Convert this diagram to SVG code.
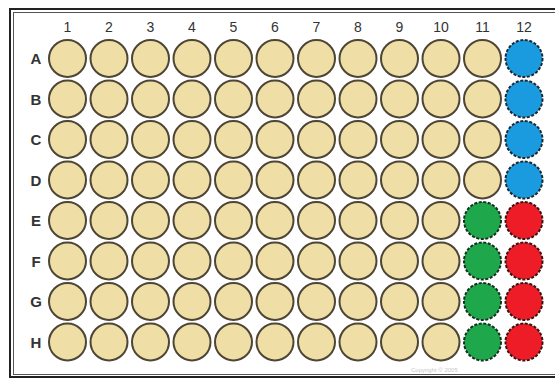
<svg xmlns="http://www.w3.org/2000/svg" width="555" height="378" viewBox="0 0 555 378">
<style>
.w{fill:#efdea6;stroke:#4d4535;stroke-width:2}
.b{fill:#1a9be0;stroke:#1c2a33;stroke-width:2;stroke-dasharray:3 1.6}
.g{fill:#1fa84b;stroke:#16301e;stroke-width:2;stroke-dasharray:3 1.6}
.r{fill:#ee1c26;stroke:#3a1414;stroke-width:2;stroke-dasharray:3 1.6}
.n{font-family:"Liberation Sans",Arial,sans-serif;font-size:14px;fill:#333;text-anchor:middle}
.l{font-family:"Liberation Sans",Arial,sans-serif;font-size:15px;font-weight:bold;fill:#333;text-anchor:middle}
</style>
<rect width="555" height="378" fill="#fff"/>
<rect x="10" y="9" width="560" height="368" fill="none" stroke="#222" stroke-width="2"/>
<rect x="13.5" y="12.5" width="560" height="362" fill="none" stroke="#555" stroke-width="1"/>
<g id="col-labels">
<text class="n" x="67.5" y="32">1</text><text class="n" x="109" y="32">2</text><text class="n" x="150.5" y="32">3</text><text class="n" x="192" y="32">4</text><text class="n" x="233.5" y="32">5</text><text class="n" x="275" y="32">6</text><text class="n" x="316.5" y="32">7</text><text class="n" x="358" y="32">8</text><text class="n" x="399.5" y="32">9</text><text class="n" x="441" y="32">10</text><text class="n" x="482.5" y="32">11</text><text class="n" x="524" y="32">12</text>
</g>
<g id="row-labels">
<text class="l" x="36" y="64">A</text><text class="l" x="36" y="104.5">B</text><text class="l" x="36" y="145">C</text><text class="l" x="36" y="185.5">D</text><text class="l" x="36" y="226">E</text><text class="l" x="36" y="266.5">F</text><text class="l" x="36" y="307">G</text><text class="l" x="36" y="347.5">H</text>
</g>
<g id="connectors"/>
<g id="A1"><circle class="w" cx="67.5" cy="58.5" r="18.5"/></g><g id="A2"><circle class="w" cx="109" cy="58.5" r="18.5"/></g><g id="A3"><circle class="w" cx="150.5" cy="58.5" r="18.5"/></g><g id="A4"><circle class="w" cx="192" cy="58.5" r="18.5"/></g><g id="A5"><circle class="w" cx="233.5" cy="58.5" r="18.5"/></g><g id="A6"><circle class="w" cx="275" cy="58.5" r="18.5"/></g><g id="A7"><circle class="w" cx="316.5" cy="58.5" r="18.5"/></g><g id="A8"><circle class="w" cx="358" cy="58.5" r="18.5"/></g><g id="A9"><circle class="w" cx="399.5" cy="58.5" r="18.5"/></g><g id="A10"><circle class="w" cx="441" cy="58.5" r="18.5"/></g><g id="A11"><circle class="w" cx="482.5" cy="58.5" r="18.5"/></g><g id="A12"><circle class="b" cx="524" cy="58.5" r="18.5"/></g>
<g id="B1"><circle class="w" cx="67.5" cy="99" r="18.5"/></g><g id="B2"><circle class="w" cx="109" cy="99" r="18.5"/></g><g id="B3"><circle class="w" cx="150.5" cy="99" r="18.5"/></g><g id="B4"><circle class="w" cx="192" cy="99" r="18.5"/></g><g id="B5"><circle class="w" cx="233.5" cy="99" r="18.5"/></g><g id="B6"><circle class="w" cx="275" cy="99" r="18.5"/></g><g id="B7"><circle class="w" cx="316.5" cy="99" r="18.5"/></g><g id="B8"><circle class="w" cx="358" cy="99" r="18.5"/></g><g id="B9"><circle class="w" cx="399.5" cy="99" r="18.5"/></g><g id="B10"><circle class="w" cx="441" cy="99" r="18.5"/></g><g id="B11"><circle class="w" cx="482.5" cy="99" r="18.5"/></g><g id="B12"><circle class="b" cx="524" cy="99" r="18.5"/></g>
<g id="C1"><circle class="w" cx="67.5" cy="139.5" r="18.5"/></g><g id="C2"><circle class="w" cx="109" cy="139.5" r="18.5"/></g><g id="C3"><circle class="w" cx="150.5" cy="139.5" r="18.5"/></g><g id="C4"><circle class="w" cx="192" cy="139.5" r="18.5"/></g><g id="C5"><circle class="w" cx="233.5" cy="139.5" r="18.5"/></g><g id="C6"><circle class="w" cx="275" cy="139.5" r="18.5"/></g><g id="C7"><circle class="w" cx="316.5" cy="139.5" r="18.5"/></g><g id="C8"><circle class="w" cx="358" cy="139.5" r="18.5"/></g><g id="C9"><circle class="w" cx="399.5" cy="139.5" r="18.5"/></g><g id="C10"><circle class="w" cx="441" cy="139.5" r="18.5"/></g><g id="C11"><circle class="w" cx="482.5" cy="139.5" r="18.5"/></g><g id="C12"><circle class="b" cx="524" cy="139.5" r="18.5"/></g>
<g id="D1"><circle class="w" cx="67.5" cy="180" r="18.5"/></g><g id="D2"><circle class="w" cx="109" cy="180" r="18.5"/></g><g id="D3"><circle class="w" cx="150.5" cy="180" r="18.5"/></g><g id="D4"><circle class="w" cx="192" cy="180" r="18.5"/></g><g id="D5"><circle class="w" cx="233.5" cy="180" r="18.5"/></g><g id="D6"><circle class="w" cx="275" cy="180" r="18.5"/></g><g id="D7"><circle class="w" cx="316.5" cy="180" r="18.5"/></g><g id="D8"><circle class="w" cx="358" cy="180" r="18.5"/></g><g id="D9"><circle class="w" cx="399.5" cy="180" r="18.5"/></g><g id="D10"><circle class="w" cx="441" cy="180" r="18.5"/></g><g id="D11"><circle class="w" cx="482.5" cy="180" r="18.5"/></g><g id="D12"><circle class="b" cx="524" cy="180" r="18.5"/></g>
<g id="E1"><circle class="w" cx="67.5" cy="220.5" r="18.5"/></g><g id="E2"><circle class="w" cx="109" cy="220.5" r="18.5"/></g><g id="E3"><circle class="w" cx="150.5" cy="220.5" r="18.5"/></g><g id="E4"><circle class="w" cx="192" cy="220.5" r="18.5"/></g><g id="E5"><circle class="w" cx="233.5" cy="220.5" r="18.5"/></g><g id="E6"><circle class="w" cx="275" cy="220.5" r="18.5"/></g><g id="E7"><circle class="w" cx="316.5" cy="220.5" r="18.5"/></g><g id="E8"><circle class="w" cx="358" cy="220.5" r="18.5"/></g><g id="E9"><circle class="w" cx="399.5" cy="220.5" r="18.5"/></g><g id="E10"><circle class="w" cx="441" cy="220.5" r="18.5"/></g><g id="E11"><circle class="g" cx="482.5" cy="220.5" r="18.5"/></g><g id="E12"><circle class="r" cx="524" cy="220.5" r="18.5"/></g>
<g id="F1"><circle class="w" cx="67.5" cy="261" r="18.5"/></g><g id="F2"><circle class="w" cx="109" cy="261" r="18.5"/></g><g id="F3"><circle class="w" cx="150.5" cy="261" r="18.5"/></g><g id="F4"><circle class="w" cx="192" cy="261" r="18.5"/></g><g id="F5"><circle class="w" cx="233.5" cy="261" r="18.5"/></g><g id="F6"><circle class="w" cx="275" cy="261" r="18.5"/></g><g id="F7"><circle class="w" cx="316.5" cy="261" r="18.5"/></g><g id="F8"><circle class="w" cx="358" cy="261" r="18.5"/></g><g id="F9"><circle class="w" cx="399.5" cy="261" r="18.5"/></g><g id="F10"><circle class="w" cx="441" cy="261" r="18.5"/></g><g id="F11"><circle class="g" cx="482.5" cy="261" r="18.5"/></g><g id="F12"><circle class="r" cx="524" cy="261" r="18.5"/></g>
<g id="G1"><circle class="w" cx="67.5" cy="301.5" r="18.5"/></g><g id="G2"><circle class="w" cx="109" cy="301.5" r="18.5"/></g><g id="G3"><circle class="w" cx="150.5" cy="301.5" r="18.5"/></g><g id="G4"><circle class="w" cx="192" cy="301.5" r="18.5"/></g><g id="G5"><circle class="w" cx="233.5" cy="301.5" r="18.5"/></g><g id="G6"><circle class="w" cx="275" cy="301.5" r="18.5"/></g><g id="G7"><circle class="w" cx="316.5" cy="301.5" r="18.5"/></g><g id="G8"><circle class="w" cx="358" cy="301.5" r="18.5"/></g><g id="G9"><circle class="w" cx="399.5" cy="301.5" r="18.5"/></g><g id="G10"><circle class="w" cx="441" cy="301.5" r="18.5"/></g><g id="G11"><circle class="g" cx="482.5" cy="301.5" r="18.5"/></g><g id="G12"><circle class="r" cx="524" cy="301.5" r="18.5"/></g>
<g id="H1"><circle class="w" cx="67.5" cy="342" r="18.5"/></g><g id="H2"><circle class="w" cx="109" cy="342" r="18.5"/></g><g id="H3"><circle class="w" cx="150.5" cy="342" r="18.5"/></g><g id="H4"><circle class="w" cx="192" cy="342" r="18.5"/></g><g id="H5"><circle class="w" cx="233.5" cy="342" r="18.5"/></g><g id="H6"><circle class="w" cx="275" cy="342" r="18.5"/></g><g id="H7"><circle class="w" cx="316.5" cy="342" r="18.5"/></g><g id="H8"><circle class="w" cx="358" cy="342" r="18.5"/></g><g id="H9"><circle class="w" cx="399.5" cy="342" r="18.5"/></g><g id="H10"><circle class="w" cx="441" cy="342" r="18.5"/></g><g id="H11"><circle class="g" cx="482.5" cy="342" r="18.5"/></g><g id="H12"><circle class="r" cx="524" cy="342" r="18.5"/></g>
<text x="411" y="372" font-family="'Liberation Sans',Arial,sans-serif" font-size="6" fill="#c8c8c8">Copyright © 2005</text>
</svg>
